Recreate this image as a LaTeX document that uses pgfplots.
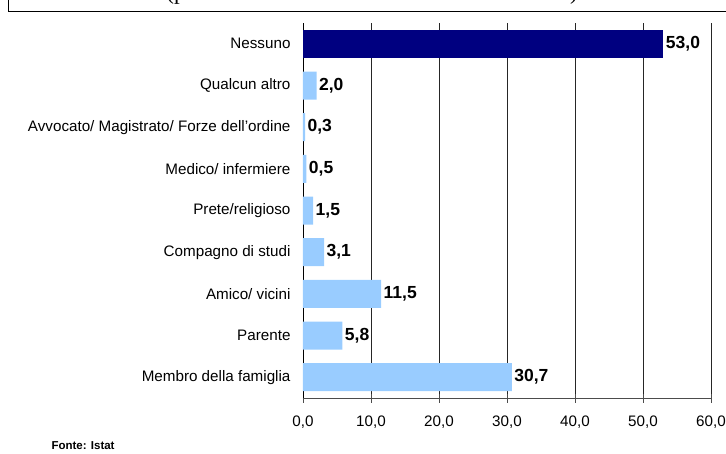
\documentclass[border=0pt]{standalone}
\usepackage{fontspec}
\setmainfont{Liberation Sans}
\newfontfamily\titlefont{Liberation Serif}
\usepackage{pgfplots}
\pgfplotsset{compat=1.18}
\definecolor{navybar}{RGB}{0,0,128}
\definecolor{lightbar}{RGB}{153,204,255}

\pgfplotstableread{
y val
0 30.7
1 5.8
2 11.5
3 3.1
4 1.5
5 0.5
6 0.3
7 2.0
}\others
\pgfplotstableread{
y val
8 53.0
}\none

\begin{document}
\begin{tikzpicture}
\useasboundingbox (0,0) rectangle (726pt,453pt);
% outer frame, cut by the page edge
\draw[line width=1.3pt] (8.5pt,500pt) -- (8.5pt,441.5pt) -- (760pt,441.5pt);
\node[anchor=base, font=\titlefont\fontsize{23}{25}\selectfont] at (372pt,453.5pt)
  {(per 100 vittime con le stesse caratteristiche)};
\begin{axis}[
  scale only axis,
  width=408pt, height=375pt,
  at={(303pt,55pt)}, anchor=south west,
  xbar, bar width=28pt, bar shift=0pt,
  xmin=0, xmax=60, ymin=-0.5, ymax=8.5,
  axis x line*=bottom, axis y line*=left,
  x axis line style={black!70, line width=0.8pt},
  y axis line style={black, line width=0.8pt},
  xtick={0,10,...,60},
  xmajorgrids, major grid style={black!85, line width=0.6pt},
  x tick style={black!70, line width=0.8pt},
  xtick align=center, major tick length=9pt,
  ytick={0,...,8},
  yticklabels={Membro della famiglia\ ,Parente,Amico/ vicini,Compagno di studi,Prete/religioso,Medico/ infermiere,Avvocato/ Magistrato/ Forze dell'ordine,Qualcun altro,Nessuno},
  y tick style={draw=none},
  minor ytick={-0.5,0.5,...,8.5},
  minor y tick style={black, line width=0.8pt},
  minor tick length=5pt,
  ytick align=outside,
  yticklabel style={font=\fontsize{15.2}{17}\selectfont, xshift=0pt},
  xticklabel style={font=\fontsize{15.2}{17}\selectfont, yshift=-10pt},
  /pgf/number format/.cd, assume math mode=true, fixed, fixed zerofill, precision=1, use comma,
  /pgfplots/.cd,
  nodes near coords,
  nodes near coords style={font=\bfseries\fontsize{17.5}{19}\selectfont, anchor=west, xshift=-1pt,
    /pgf/number format/.cd, assume math mode=true, fixed, fixed zerofill, precision=1, use comma},
  clip=false,
]
\addplot[draw=none, fill=lightbar] table[x=val, y=y] {\others};
\addplot[draw=none, fill=navybar] table[x=val, y=y] {\none};
\end{axis}
\node[anchor=base west, font=\bfseries\fontsize{11.5}{13}\selectfont] at (48pt,4pt) {Fonte: Istat};
\end{tikzpicture}
\end{document}
